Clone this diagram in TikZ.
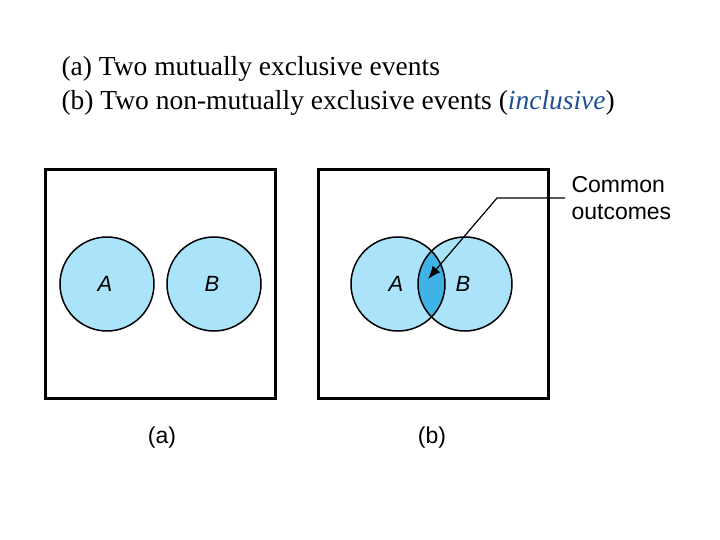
\documentclass[tikz,border=0pt]{standalone}
\usepackage{fontspec}
\usetikzlibrary{arrows.meta}
\setmainfont{Liberation Serif}
\newfontfamily\sans{Liberation Sans}
\definecolor{lb}{HTML}{ABE3FA}
\definecolor{db}{HTML}{3FB2E6}
\definecolor{tb}{HTML}{1F4E9A}
\begin{document}
\begin{tikzpicture}[x=1pt,y=-1pt,
  frame/.style={draw,line width=3pt},
  circ/.style={circle,draw,line width=1.5pt,fill=lb,minimum size=94pt,inner sep=0pt},
  lab/.style={font=\sans\itshape\fontsize{22}{22}\selectfont},
  captext/.style={font=\sans\fontsize{23}{23}\selectfont},
  ttl/.style={anchor=west,font=\fontsize{27.5}{27.5}\selectfont}]
\useasboundingbox (0,0) rectangle (720,540);
\node[ttl] (t1) at (58,69) {(a) Two mutually exclusive events};
\node[ttl] (t2) at (58,103) {(b) Two non-mutually exclusive events (\textcolor{tb}{\itshape inclusive})};
\draw[frame] (45,170) rectangle (275,398);
\draw[frame] (318,170) rectangle (548,398);
\node[circ] (a1) at (107,284) {};
\node[circ] (b1) at (214,284) {};
\node[lab] at (105,284) {A};
\node[lab] at (212,284) {B};
\fill[lb] (398,284) circle (47) (465,284) circle (47);
\begin{scope}
\clip (398,284) circle (47);
\fill[db] (465,284) circle (47);
\end{scope}
\draw[line width=1.5pt] (398,284) circle (47) (465,284) circle (47);
\node[lab] (a2) at (396,284) {A};
\node[lab] (b2) at (463,284) {B};
\node[captext,anchor=west] (c1) at (568,185) {Common};
\node[captext,anchor=west] (c2) at (568,212) {outcomes};
\coordinate (p1) at (565,198);
\coordinate (p2) at (497,198);
\coordinate (p3) at (428,279);
\draw[line width=1.2pt,-{Latex[length=13pt,width=10pt]}] (p1) -- (p2) -- (p3);
\node[captext] (la) at (162,438) {(a)};
\node[captext] (lb) at (432,438) {(b)};
\end{tikzpicture}
\end{document}
